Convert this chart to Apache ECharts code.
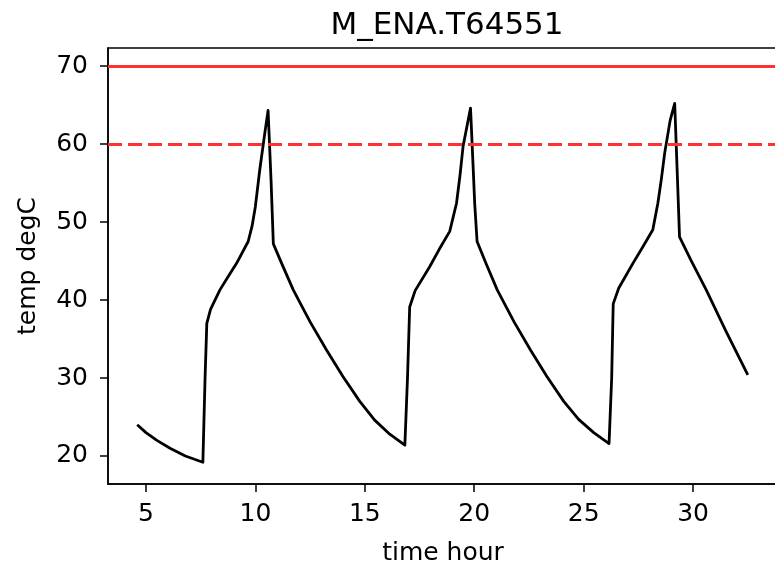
<!DOCTYPE html>
<html>
<head>
<meta charset="utf-8">
<script src="https://cdn.jsdelivr.net/npm/echarts@6/dist/echarts.min.js"></script>
<style>
html,body{margin:0;padding:0;background:#fff;}
#chart{width:775px;height:567px;}
</style>
</head>
<body>
<div id="chart"></div>
<script>
const chartTitle = "M_ENA.T64551";
const xLabel = "time hour";
const yLabel = "temp degC";
const xTicks = [5, 10, 15, 20, 25, 30];
const yTicks = [20, 30, 40, 50, 60, 70];
const alarmLimit = 70;
const warnLimit = 60;

const timeHour = [
  4.6, 5.0, 5.5, 6.1, 6.8, 7.6, 7.7, 7.78, 7.95, 8.38, 8.8, 9.14, 9.67, 9.85, 10.0, 10.2, 10.43, 10.58,
  10.72, 10.82, 11.2, 11.73, 12.5, 13.25, 14.0, 14.77, 15.45, 16.14, 16.83,
  16.95, 17.05, 17.3, 17.97, 18.4, 18.88, 19.19, 19.35, 19.49, 19.83,
  19.95, 20.02, 20.13, 20.52, 21.05, 21.82, 22.57, 23.32, 24.09, 24.77, 25.46, 26.16,
  26.28, 26.35, 26.6, 27.25, 27.7, 28.16, 28.39, 28.55, 28.7, 28.95, 29.16,
  29.28, 29.38, 29.9, 30.6, 31.5, 32.5
];
const tempDegC = [
  24.0, 23.0, 22.0, 21.0, 20.0, 19.2, 30.0, 37.0, 38.8, 41.3, 43.2, 44.7, 47.5, 49.5, 52.0, 56.7, 61.4, 64.3,
  55.0, 47.2, 44.7, 41.3, 37.2, 33.6, 30.2, 27.0, 24.6, 22.8, 21.4,
  30.0, 39.1, 41.2, 44.3, 46.5, 48.8, 52.4, 56.0, 59.7, 64.6,
  57.0, 52.4, 47.5, 44.8, 41.3, 37.2, 33.6, 30.2, 27.0, 24.7, 23.0, 21.6,
  30.0, 39.5, 41.5, 44.7, 46.8, 49.0, 52.4, 55.5, 58.8, 63.0, 65.2,
  56.0, 48.1, 45.1, 41.3, 36.0, 30.4
];

const FONT = "DejaVu Sans";
const chart = echarts.init(document.getElementById('chart'), null, {renderer: 'canvas'});
const points = timeHour.map((t, i) => [t, tempDegC[i]]);

chart.setOption({
  animation: false,
  backgroundColor: '#fff',
  title: {
    text: chartTitle,
    left: 442,
    top: 5,
    textAlign: 'center',
    textStyle: {fontFamily: FONT, fontSize: 31, fontWeight: 'normal', color: '#000'}
  },
  grid: {
    left: 108, top: 48, right: -3, bottom: 83,
    containLabel: false,
    outerBoundsMode: 'none',
    show: true, borderColor: '#000', borderWidth: 1.5, backgroundColor: 'transparent'
  },
  xAxis: {
    type: 'value',
    min: 3.265, max: 33.88,
    name: xLabel,
    nameLocation: 'middle',
    nameGap: 57,
    nameTextStyle: {fontFamily: FONT, fontSize: 25, color: '#000'},
    axisLine: {show: true, onZero: false, lineStyle: {color: '#000', width: 1.5}},
    axisTick: {show: true, customValues: xTicks, length: 8, lineStyle: {color: '#000', width: 1.5}},
    axisLabel: {customValues: xTicks, margin: 18, fontFamily: FONT, fontSize: 25, color: '#000'},
    splitLine: {show: false}
  },
  yAxis: {
    type: 'value',
    min: 16.41, max: 72.31,
    name: yLabel,
    nameLocation: 'middle',
    nameGap: 67,
    nameRotate: 90,
    nameTextStyle: {fontFamily: FONT, fontSize: 25, color: '#000'},
    axisLine: {show: true, onZero: false, lineStyle: {color: '#000', width: 1.5}},
    axisTick: {show: true, customValues: yTicks, length: 8, lineStyle: {color: '#000', width: 1.5}},
    axisLabel: {customValues: yTicks, margin: 20, fontFamily: FONT, fontSize: 25, color: '#000'},
    splitLine: {show: false}
  },
  series: [
    {
      type: 'line',
      data: points,
      showSymbol: false,
      symbol: 'none',
      lineStyle: {color: '#000', width: 2.8, join: 'round'},
      z: 2
    },
    {
      type: 'line',
      data: [],
      z: 3,
      markLine: {
        silent: true,
        symbol: ['none', 'none'],
        label: {show: false},
        animation: false,
        data: [
          {yAxis: alarmLimit, lineStyle: {color: '#ff3030', width: 3.2, type: 'solid'}},
          {yAxis: warnLimit, lineStyle: {color: '#ff3030', width: 3.2, type: [14, 6]}}
        ]
      }
    }
  ]
});
</script>
</body>
</html>
